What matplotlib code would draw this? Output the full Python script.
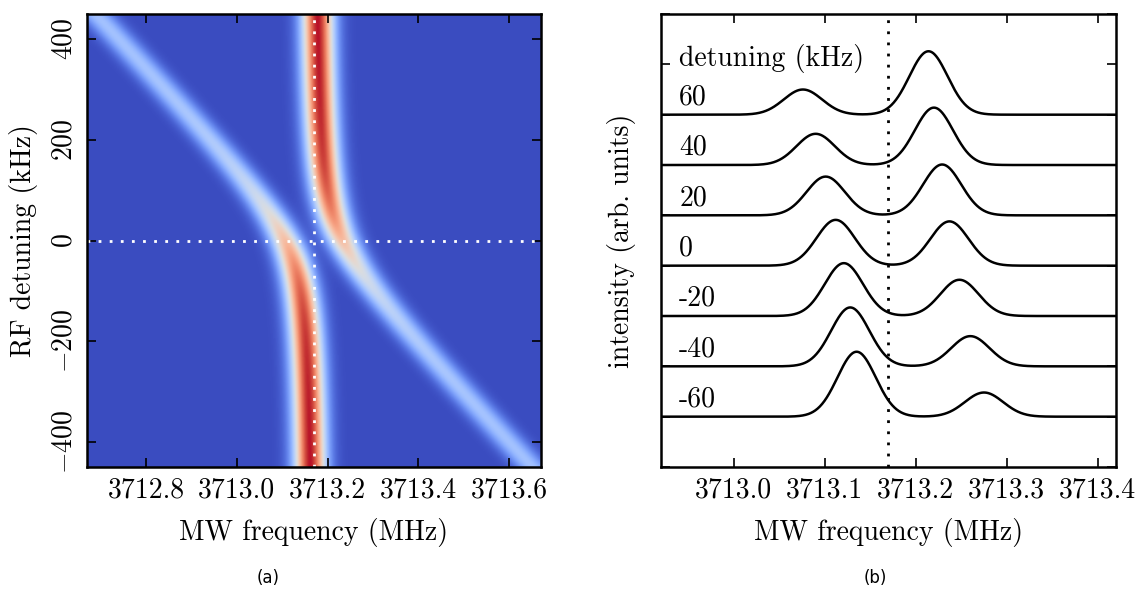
import numpy as np
import matplotlib
matplotlib.use("Agg")
import matplotlib.pyplot as plt
from matplotlib import ticker

plt.rcParams['font.family'] = 'cmr10'
plt.rcParams['mathtext.fontset'] = 'cm'
plt.rcParams['axes.unicode_minus'] = False

# (a) avoided crossing, parameters
F0 = 3713.17            # MHz, bright (vertical) line
SLOPE = 1.05            # MHz shift of dark line per MHz of RF detuning
COUPLING = 0.063        # MHz, half the splitting at zero detuning
LINE_SIGMA = 0.025      # MHz
BRIGHT_AMP = 1.0
DARK_AMP = 0.3
FREQ_LIM = (3712.67, 3713.67)
DET_LIM = (-450, 450)   # kHz

# (b) spectra at fixed detunings
detunings = [60, 40, 20, 0, -20, -40, -60]
low_pos = [3713.076, 3713.090, 3713.101, 3713.112, 3713.121, 3713.128, 3713.135]
high_pos = [3713.214, 3713.220, 3713.229, 3713.237, 3713.248, 3713.260, 3713.275]
low_amp = [0.50, 0.62, 0.77, 0.91, 1.05, 1.17, 1.29]
high_amp = [1.26, 1.14, 1.01, 0.88, 0.72, 0.60, 0.48]
peak_sigma = 0.021
cut_freq = 3713.17

TICK_FS = 20
LABEL_FS = 20

fig = plt.figure(figsize=(11.4, 5.94), dpi=100)
ax1 = fig.add_axes([0.0763, 0.2138, 0.3982, 0.7626])
ax2 = fig.add_axes([0.5798, 0.2138, 0.3991, 0.7626])

# --- panel (a)
freq = np.linspace(FREQ_LIM[0], FREQ_LIM[1], 600)
det = np.linspace(DET_LIM[0], DET_LIM[1], 400)
img = np.zeros((det.size, freq.size))
for i, d in enumerate(det):
    h = np.array([[F0, COUPLING], [COUPLING, F0 - SLOPE * d / 1000.0]])
    vals, vecs = np.linalg.eigh(h)
    for k in range(2):
        w = BRIGHT_AMP * vecs[0, k] ** 2 + DARK_AMP * vecs[1, k] ** 2
        img[i] += w * np.exp(-(freq - vals[k]) ** 2 / (2 * LINE_SIGMA ** 2))

ax1.imshow(img, extent=[FREQ_LIM[0], FREQ_LIM[1], DET_LIM[0], DET_LIM[1]],
           origin='lower', aspect='auto', cmap='coolwarm', vmin=0, vmax=1,
           interpolation='bilinear')
ax1.axhline(0, color='white', lw=2, dashes=(1, 3))
ax1.axvline(F0, color='white', lw=2, dashes=(1, 3))
ax1.set_xlim(*FREQ_LIM)
ax1.set_ylim(*DET_LIM)
ax1.set_xticks([3712.8, 3713.0, 3713.2, 3713.4, 3713.6])
ax1.set_yticks([-400, -200, 0, 200, 400])
ax1.xaxis.set_major_formatter(ticker.FormatStrFormatter('%.1f'))
ax1.yaxis.set_major_formatter(ticker.FuncFormatter(lambda v, p: '$%d$' % v))
ax1.set_xlabel('MW frequency (MHz)', fontsize=LABEL_FS)
ax1.set_ylabel('RF detuning (kHz)', fontsize=LABEL_FS)
ax1.xaxis.set_label_coords(0.5, -0.112)
ax1.yaxis.set_label_coords(-0.108, 0.5)
for lab in ax1.get_yticklabels():
    lab.set_rotation(90)
    lab.set_va('center')

# --- panel (b)
f = np.linspace(3712.92, 3713.42, 800)
for n, d in enumerate(detunings):
    off = len(detunings) - 1 - n
    y = off + low_amp[n] * np.exp(-(f - low_pos[n]) ** 2 / (2 * peak_sigma ** 2)) \
        + high_amp[n] * np.exp(-(f - high_pos[n]) ** 2 / (2 * peak_sigma ** 2))
    ax2.plot(f, y, color='black', lw=1.8)
    ax2.text(3712.94, off + 0.08, str(d), fontsize=TICK_FS, va='bottom', ha='left')
ax2.text(3712.94, 7.12, 'detuning (kHz)', fontsize=TICK_FS, va='center', ha='left')
ax2.axvline(cut_freq, color='black', lw=2, dashes=(1, 3))
ax2.set_xlim(3712.92, 3713.42)
ax2.set_ylim(-1, 8)
ax2.set_xticks([3713.0, 3713.1, 3713.2, 3713.3, 3713.4])
ax2.set_yticks(range(-1, 9))
ax2.xaxis.set_major_formatter(ticker.FormatStrFormatter('%.1f'))
ax2.yaxis.set_major_formatter(ticker.NullFormatter())
ax2.set_xlabel('MW frequency (MHz)', fontsize=LABEL_FS)
ax2.set_ylabel('intensity (arb. units)', fontsize=LABEL_FS)
ax2.xaxis.set_label_coords(0.5, -0.112)
ax2.yaxis.set_label_coords(-0.055, 0.5)

for ax in (ax1, ax2):
    for s in ax.spines.values():
        s.set_linewidth(1.8)
    ax.tick_params(direction='in', top=True, right=True, length=6.5, width=1.2,
                   labelsize=TICK_FS, pad=7)

fig.text(268 / 1140, 1 - 578 / 594, '(a)', fontsize=12, family='DejaVu Sans',
         ha='center', va='center')
fig.text(875 / 1140, 1 - 578 / 594, '(b)', fontsize=12, family='DejaVu Sans',
         ha='center', va='center')

fig.savefig('out.png', dpi=100)
